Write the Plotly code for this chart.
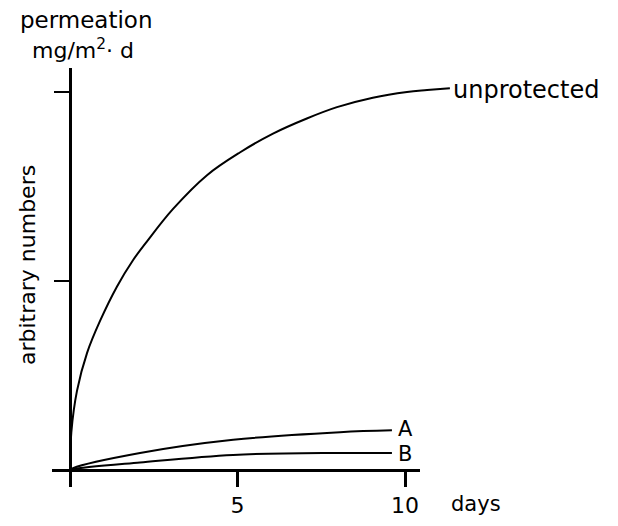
import plotly.graph_objects as go

# ---- data (days, arbitrary units) ----
unprot_days = [0, 0.04, 0.21, 0.51, 0.90, 1.40, 1.88, 2.30, 3.07, 4.09, 5.07,
               6.06, 7.07, 7.97, 9.04, 10.06, 10.66, 11.34]
unprot_vals = [0, 0.20, 0.42, 0.62, 0.79, 0.97, 1.11, 1.21, 1.38, 1.56, 1.68,
               1.78, 1.86, 1.92, 1.97, 2.00, 2.01, 2.02]
a_days = [0, 0.09, 2.09, 4.87, 8.06, 9.61]
a_vals = [0, 0.01, 0.09, 0.16, 0.20, 0.21]
b_days = [0, 0.09, 2.09, 4.87, 8.06, 9.61]
b_vals = [0, 0.005, 0.04, 0.08, 0.09, 0.09]
x_tick_vals = [5, 10]
x_tick_text = ["5", "10"]
y_tick_vals = [1, 2]

# page has an 8px body margin -> figure is 16px smaller and shifted by 8px
OFF = 8
FW, FH = 618 - 2 * OFF, 526 - 2 * OFF
FONT = "DejaVu Sans"
x0px, pxday = 70, 33.5          # screen pixel of day 0, pixels per day
y0px, pxunit = 470, 189         # screen pixel of value 0, pixels per unit
xl, xr = 52, 420                # visible x-axis extent (screen px)
xr2 = 460                       # data axis extent (screen px)
yt, yb = 68, 487                # y-axis extent (screen px)


def px_x(px):
    return (px - OFF) / FW


def px_y(py):
    return 1 - (py - OFF) / FH


def dx(px):
    return (px - x0px) / pxday


def dy(py):
    return (y0px - py) / pxunit


line = dict(color="black", width=2, shape="spline", smoothing=1.0)

fig = go.Figure()
fig.add_trace(go.Scatter(x=a_days, y=a_vals, mode="lines", line=line,
                         xaxis="x", yaxis="y", hoverinfo="skip"))
fig.add_trace(go.Scatter(x=b_days, y=b_vals, mode="lines", line=line,
                         xaxis="x", yaxis="y", hoverinfo="skip"))
fig.add_trace(go.Scatter(x=unprot_days, y=unprot_vals, mode="lines", line=line,
                         xaxis="x2", yaxis="y", hoverinfo="skip"))

fig.update_layout(
    width=FW, height=FH,
    margin=dict(l=0, r=0, t=0, b=0),
    paper_bgcolor="white", plot_bgcolor="rgba(0,0,0,0)",
    showlegend=False,
    font=dict(family=FONT, color="black", size=20),
    xaxis=dict(
        domain=[px_x(xl), px_x(xr)], range=[dx(xl), dx(xr)],
        anchor="free", position=px_y(y0px),
        showline=True, linecolor="black", linewidth=2.5,
        ticks="outside", ticklen=15, tickwidth=2.5, tickcolor="black",
        tickvals=x_tick_vals, ticktext=x_tick_text,
        tickfont=dict(family=FONT, size=22, color="black"),
        showgrid=False, zeroline=False, fixedrange=True,
    ),
    xaxis2=dict(
        domain=[px_x(xl), px_x(xr2)], range=[dx(xl), dx(xr2)],
        anchor="y", visible=False, showgrid=False, zeroline=False,
    ),
    yaxis=dict(
        domain=[px_y(yb), px_y(yt)], range=[dy(yb), dy(yt)],
        anchor="free", position=px_x(x0px),
        showline=True, linecolor="black", linewidth=3,
        ticks="outside", ticklen=15, tickwidth=2, tickcolor="black",
        tickvals=y_tick_vals, showticklabels=False,
        showgrid=False, zeroline=False, fixedrange=True,
    ),
)


def ann(text, x, y, size=20, xanchor="center", angle=0, xref="paper", yref="paper"):
    fig.add_annotation(text=text, x=x, y=y, xref=xref, yref=yref, showarrow=False,
                       xanchor=xanchor, yanchor="middle", textangle=angle,
                       borderpad=0,
                       font=dict(family=FONT, size=size, color="black"))


ann("permeation", px_x(86), px_y(20), size=23)
ann("mg/m<sup>2</sup>· d", px_x(83), px_y(49), size=22)
ann("arbitrary numbers", px_x(27), px_y(265), size=22, angle=-90)
ann("unprotected", px_x(452), px_y(90), size=24, xanchor="left")
ann("A", a_days[-1] + 0.15, a_vals[-1] + 0.005, size=21, xanchor="left", xref="x", yref="y")
ann("B", b_days[-1] + 0.15, b_vals[-1] - 0.005, size=21, xanchor="left", xref="x", yref="y")
ann("days", px_x(450), px_y(504), size=21, xanchor="left")

fig.write_html("out.html")
